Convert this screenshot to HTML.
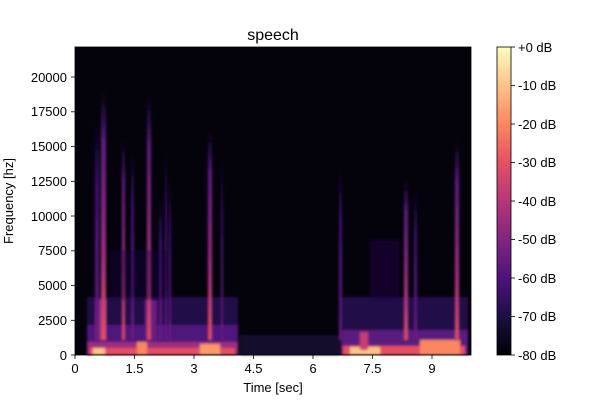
<!DOCTYPE html>
<html><head><style>
body{margin:0;background:#fff;}
svg text{font-family:"Liberation Sans",sans-serif;font-size:13px;fill:#000;}
</style></head><body>
<svg width="600" height="400" xmlns="http://www.w3.org/2000/svg">
<defs>
<linearGradient id="cb" x1="0" y1="1" x2="0" y2="0">
<stop offset="0" stop-color="#000004"/><stop offset="0.125" stop-color="#1c1044"/><stop offset="0.25" stop-color="#4f127b"/><stop offset="0.375" stop-color="#812581"/><stop offset="0.5" stop-color="#b5367a"/><stop offset="0.625" stop-color="#e55064"/><stop offset="0.75" stop-color="#fb8761"/><stop offset="0.875" stop-color="#fec287"/><stop offset="1" stop-color="#fcfdbf"/>
</linearGradient>
<linearGradient id="st" x1="0" y1="0" x2="0" y2="1">
<stop offset="0" stop-color="#3b0f70" stop-opacity="0"/><stop offset="0.2" stop-color="#5a1a7d"/><stop offset="0.7" stop-color="#a3307e"/><stop offset="1" stop-color="#e55064"/>
</linearGradient>
<linearGradient id="st2" x1="0" y1="0" x2="0" y2="1">
<stop offset="0" stop-color="#2a0f5a" stop-opacity="0"/><stop offset="0.3" stop-color="#3b0f70"/><stop offset="1" stop-color="#6a1c81"/>
</linearGradient>
<filter id="bl"><feGaussianBlur stdDeviation="1.2"/></filter>
</defs>
<text x="273" y="40" text-anchor="middle" style="font-size:16px">speech</text>
<rect x="75" y="47" width="396" height="308" fill="#04030c"/>
<g filter="url(#bl)">
<rect x="87" y="297" width="151" height="58" fill="#240a4e" opacity="0.9"/>
<rect x="87" y="325" width="151" height="30" fill="#4f127b"/>
<rect x="240" y="335" width="100" height="20" fill="#170935" opacity="0.8"/>
<rect x="87" y="342" width="151" height="13" fill="#9c2e7f"/>
<rect x="90" y="348" width="145" height="7" fill="#e55064"/>
<rect x="93" y="348" width="12" height="7" fill="#fec287"/>
<rect x="137" y="342" width="10" height="13" fill="#fb8761"/>
<rect x="200" y="344" width="20" height="11" fill="#fb9a6b"/>
<rect x="96" y="300" width="10" height="40" fill="#8c2981"/>
<rect x="145" y="300" width="12" height="40" fill="#6a1c81"/>
<rect x="341" y="297" width="127" height="58" fill="#240a4e" opacity="0.9"/>
<rect x="341" y="330" width="127" height="25" fill="#5a1a7d"/>
<rect x="343" y="346" width="122" height="9" fill="#e55064"/>
<rect x="350" y="347" width="30" height="8" fill="#fec287"/>
<rect x="420" y="340" width="40" height="15" fill="#fb8761"/>
<rect x="360" y="332" width="8" height="18" fill="#c83e73"/>
</g>
<g filter="url(#bl)">
<rect x="101" y="90" width="5" height="250" fill="url(#st)"/>
<rect x="95" y="120" width="4" height="220" fill="url(#st2)"/>
<rect x="122" y="140" width="3" height="200" fill="url(#st)"/>
<rect x="131" y="150" width="3" height="190" fill="url(#st2)"/>
<rect x="147" y="95" width="4" height="245" fill="url(#st)"/>
<rect x="159" y="200" width="3" height="140" fill="url(#st2)"/>
<rect x="165" y="150" width="2" height="190" fill="url(#st2)"/>
<rect x="169" y="180" width="2" height="160" fill="url(#st2)"/>
<rect x="208" y="130" width="4" height="210" fill="url(#st)"/>
<rect x="221" y="160" width="2" height="180" fill="url(#st2)"/>
<rect x="339" y="170" width="3" height="170" fill="url(#st2)"/>
<rect x="404" y="180" width="4" height="160" fill="url(#st)"/>
<rect x="414" y="190" width="3" height="150" fill="url(#st2)"/>
<rect x="455" y="140" width="4" height="200" fill="url(#st)"/>
<rect x="370" y="240" width="30" height="60" fill="#1e0b45" opacity="0.5"/>
<rect x="110" y="250" width="60" height="50" fill="#1e0b45" opacity="0.4"/>
</g>
<rect x="75" y="47" width="396" height="308" fill="none" stroke="#000" stroke-width="0.8"/>
<g stroke="#000" stroke-width="0.8">
<line x1="75" y1="355" x2="75" y2="359"/><line x1="134.5" y1="355" x2="134.5" y2="359"/><line x1="194" y1="355" x2="194" y2="359"/><line x1="253.5" y1="355" x2="253.5" y2="359"/><line x1="313" y1="355" x2="313" y2="359"/><line x1="372.5" y1="355" x2="372.5" y2="359"/><line x1="432" y1="355" x2="432" y2="359"/>
<line x1="71" y1="355" x2="75" y2="355"/><line x1="71" y1="320.3" x2="75" y2="320.3"/><line x1="71" y1="285.5" x2="75" y2="285.5"/><line x1="71" y1="250.8" x2="75" y2="250.8"/><line x1="71" y1="216" x2="75" y2="216"/><line x1="71" y1="181.3" x2="75" y2="181.3"/><line x1="71" y1="146.5" x2="75" y2="146.5"/><line x1="71" y1="111.8" x2="75" y2="111.8"/><line x1="71" y1="77" x2="75" y2="77"/>
</g>
<g text-anchor="middle">
<text x="75" y="373">0</text><text x="134.5" y="373">1.5</text><text x="194" y="373">3</text><text x="253.5" y="373">4.5</text><text x="313" y="373">6</text><text x="372.5" y="373">7.5</text><text x="432" y="373">9</text>
</g>
<text x="273" y="392" text-anchor="middle">Time [sec]</text>
<g text-anchor="end">
<text x="67" y="360">0</text><text x="67" y="325">2500</text><text x="67" y="290">5000</text><text x="67" y="255">7500</text><text x="67" y="221">10000</text><text x="67" y="186">12500</text><text x="67" y="151">15000</text><text x="67" y="116">17500</text><text x="67" y="82">20000</text>
</g>
<text transform="translate(13,201) rotate(-90)" text-anchor="middle">Frequency [hz]</text>
<rect x="497" y="47" width="14" height="308" fill="url(#cb)" stroke="#000" stroke-width="0.8"/>
<g stroke="#000" stroke-width="0.8">
<line x1="511" y1="47" x2="515" y2="47"/><line x1="511" y1="85.5" x2="515" y2="85.5"/><line x1="511" y1="124" x2="515" y2="124"/><line x1="511" y1="162.5" x2="515" y2="162.5"/><line x1="511" y1="201" x2="515" y2="201"/><line x1="511" y1="239.5" x2="515" y2="239.5"/><line x1="511" y1="278" x2="515" y2="278"/><line x1="511" y1="316.5" x2="515" y2="316.5"/><line x1="511" y1="355" x2="515" y2="355"/>
</g>
<g>
<text x="518" y="52">+0 dB</text><text x="518" y="90">-10 dB</text><text x="518" y="129">-20 dB</text><text x="518" y="167">-30 dB</text><text x="518" y="206">-40 dB</text><text x="518" y="244">-50 dB</text><text x="518" y="283">-60 dB</text><text x="518" y="321">-70 dB</text><text x="518" y="360">-80 dB</text>
</g>
</svg>
</body></html>
